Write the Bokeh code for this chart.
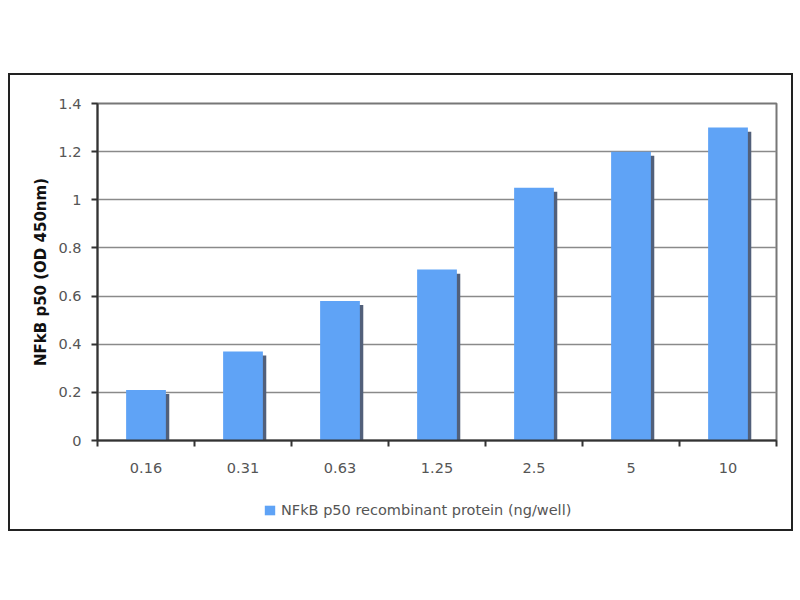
from bokeh.plotting import figure
from bokeh.models import (FixedTicker, Legend, LegendItem, ColumnDataSource, Range1d)
from bokeh.layouts import column
from bokeh.embed import file_html
from bokeh.resources import INLINE

CATEGORIES = ["0.16", "0.31", "0.63", "1.25", "2.5", "5", "10"]
VALUES = [0.21, 0.37, 0.58, 0.71, 1.05, 1.20, 1.30]
Y_TICKS = [0, 0.2, 0.4, 0.6, 0.8, 1, 1.2, 1.4]
Y_LABELS = ["0", "0.2", "0.4", "0.6", "0.8", "1", "1.2", "1.4"]
SERIES_NAME = "NFkB p50 recombinant protein (ng/well)"
Y_TITLE = "NFkB p50 (OD 450nm)"

FONT = "DejaVu Sans"
BAR_W = 0.41
SH_DX = 0.035
SH_DY = 0.017
BAR_COLOR = "#5fa3f6"

xs = [i + 0.5 for i in range(len(CATEGORIES))]
src = ColumnDataSource(dict(
    x=xs, top=VALUES,
    xs=[x + SH_DX for x in xs], stop=[v - SH_DY for v in VALUES],
))

p = figure(width=781, height=415, output_backend="svg", toolbar_location=None,
           x_range=Range1d(0, len(CATEGORIES)), y_range=Range1d(0, 1.4),
           min_border_left=87, min_border_right=15, min_border_top=28, min_border_bottom=50)

p.vbar(x="xs", top="stop", bottom=0, width=BAR_W, source=src,
       fill_color="#52607a", line_color=None)
p.vbar(x="x", top="top", bottom=0, width=BAR_W, source=src,
       fill_color=BAR_COLOR, line_color=None)

# axes
p.xaxis.ticker = FixedTicker(ticks=xs, minor_ticks=list(range(len(CATEGORIES) + 1)))
p.xaxis.major_label_overrides = {x: c for x, c in zip(xs, CATEGORIES)}
p.xaxis.major_tick_out = 0
p.xaxis.major_tick_in = 0
p.xaxis.minor_tick_out = 6
p.xaxis.minor_tick_in = 0
p.xaxis.minor_tick_line_color = "#333333"
p.xaxis.minor_tick_line_width = 2
p.xaxis.axis_line_color = "#333333"
p.xaxis.axis_line_width = 2
p.xaxis.major_label_standoff = 16
p.xaxis.major_label_text_font = FONT
p.xaxis.major_label_text_font_size = "14.5px"
p.xaxis.major_label_text_color = "#555555"

p.yaxis.ticker = FixedTicker(ticks=Y_TICKS)
p.yaxis.major_label_overrides = {t: l for t, l in zip(Y_TICKS, Y_LABELS)}
p.yaxis.minor_tick_line_color = None
p.yaxis.major_tick_out = 6
p.yaxis.major_tick_in = 0
p.yaxis.major_tick_line_color = "#333333"
p.yaxis.major_tick_line_width = 2
p.yaxis.axis_line_color = "#333333"
p.yaxis.axis_line_width = 2
p.yaxis.major_label_standoff = 10
p.yaxis.major_label_text_font = FONT
p.yaxis.major_label_text_font_size = "14.5px"
p.yaxis.major_label_text_color = "#555555"
p.yaxis.axis_label = Y_TITLE
p.yaxis.axis_label_text_font = FONT
p.yaxis.axis_label_text_font_size = "15px"
p.yaxis.axis_label_text_font_style = "bold"
p.yaxis.axis_label_text_color = "#111111"
p.yaxis.axis_label_standoff = 5

p.xgrid.grid_line_color = None
p.ygrid.ticker = FixedTicker(ticks=Y_TICKS)
p.ygrid.grid_line_color = "#8a8a8a"
p.ygrid.grid_line_width = 1.5

p.outline_line_color = "#777777"
p.outline_line_width = 2
p.background_fill_color = "white"
p.border_fill_color = "white"

# legend strip (own small figure so the legend is not clipped);
# its bars lie below the visible y range so only the legend shows
lg = figure(width=781, height=39, output_backend="svg", toolbar_location=None,
            x_range=Range1d(0, len(CATEGORIES)), y_range=Range1d(5, 6),
            x_axis_location=None, y_axis_location=None,
            min_border_left=87, min_border_right=15, min_border_top=0, min_border_bottom=0)
lg.grid.grid_line_color = None
lg.outline_line_color = None
lg.border_fill_color = None
lg.background_fill_color = None
lg_bars = lg.vbar(x="x", top="top", bottom=0, width=BAR_W, source=src,
                  fill_color=BAR_COLOR, line_color=None)
legend = Legend(items=[LegendItem(label=SERIES_NAME, renderers=[lg_bars])],
                location=(166, 11), orientation="horizontal",
                glyph_width=13, glyph_height=12, label_standoff=5,
                padding=0, margin=0, border_line_color=None,
                background_fill_alpha=0,
                label_text_font=FONT, label_text_font_size="14.5px",
                label_text_color="#555555")
lg.add_layout(legend, "center")

layout = column(p, lg, spacing=0)
layout.styles = {"border": "2px solid #222222"}
layout.margin = (73, 0, 0, 8)

open("out.html", "w").write(file_html(layout, INLINE))
